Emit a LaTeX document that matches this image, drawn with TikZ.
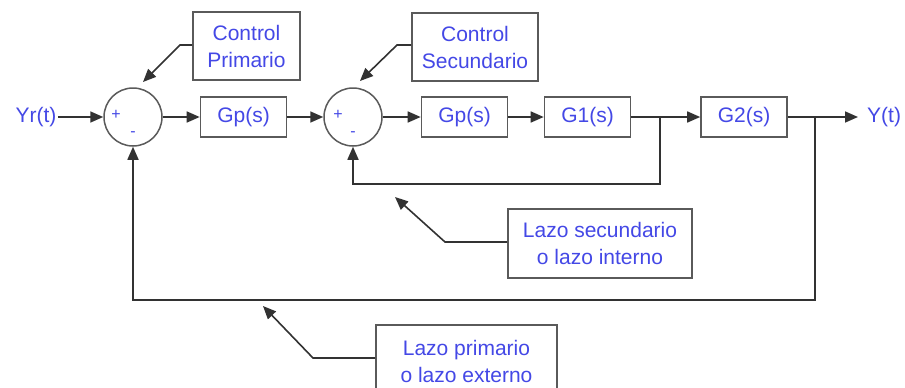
\documentclass[tikz,border=0pt]{standalone}
\usepackage{fontspec}
\setmainfont{Liberation Sans}
\usetikzlibrary{arrows.meta}
\definecolor{labelblue}{RGB}{68,72,230}
\definecolor{wire}{RGB}{50,50,50}
\definecolor{frame}{RGB}{90,90,90}
\begin{document}
\begin{tikzpicture}[x=1pt,y=-1pt,
  txt/.style={text=labelblue, font=\fontsize{21}{27}\selectfont},
  block/.style={txt, draw=frame, line width=1.6pt, fill=white,
    minimum width=86pt, minimum height=40pt, inner sep=0pt},
  note/.style={txt, draw=frame, line width=1.6pt, fill=white,
    inner sep=0pt, align=center},
  sumnode/.style={circle, draw=frame, line width=1.5pt,
    minimum size=58pt, inner sep=0pt},
  sign/.style={text=labelblue, font=\fontsize{16}{16}\selectfont, inner sep=0pt},
  sig/.style={draw=wire, line width=1.6pt,
    -{Triangle[length=13pt,width=11pt]}}]
\useasboundingbox (0,0) rectangle (905,388);
\fill[white] (0,0) rectangle (905,388);

% signal names
\node[txt] (yr) at (36,117) {Yr(t)};
\node[txt, anchor=west, inner sep=0pt] (y) at (867,117) {Y(t)};

% summing junctions
\node[sumnode] (s1) at (133,117) {};
\node[sumnode] (s2) at (353,117) {};
\node[sign] (p1) at (116,115) {+};
\node[sign] (m1) at (133,134) {-};
\node[sign] (p2) at (338,115) {+};
\node[sign] (m2) at (353,134) {-};

% transfer blocks
\node[block] (gp1) at (243.5,117) {Gp(s)};
\node[block] (gp2) at (464.5,117) {Gp(s)};
\node[block] (g1)  at (587.5,117) {G1(s)};
\node[block] (g2)  at (744,117)   {G2(s)};

% annotation boxes
\node[note, minimum width=107pt, minimum height=68pt] (cp) at (246.5,46) {Control\\Primario};
\node[note, minimum width=126pt, minimum height=68pt] (cs) at (475,47) {Control\\Secundario};
\node[note, minimum width=184pt, minimum height=69pt] (ls) at (600,243.5) {Lazo secundario\\o lazo interno};
\node[note, minimum width=181pt, minimum height=72pt] (lp) at (466.5,361) {Lazo primario\\o lazo externo};

% forward path
\draw[sig] ([xshift=-2pt]yr.east) -- (s1.west);
\draw[sig] (s1.east) -- (gp1.west);
\draw[sig] (gp1.east) -- (s2.west);
\draw[sig] (s2.east) -- (gp2.west);
\draw[sig] (gp2.east) -- (g1.west);
\draw[sig] (g1.east) -- (g2.west);
\draw[sig] (g2.east) -- ([xshift=-9pt]y.west);

% inner feedback loop
\coordinate (t1) at (660,117);
\coordinate (b1) at (660,184);
\draw[sig] (t1) -- (b1) -| (s2.south);

% outer feedback loop
\coordinate (t2) at (815,117);
\coordinate (b2) at (815,300);
\draw[sig] (t2) -- (b2) -| (s1.south);

% annotation pointers
\coordinate (cpk) at (180,45);
\coordinate (cpt) at (143,82);
\draw[sig] (cp.west |- cpk) -- (cpk) -- (cpt);
\coordinate (csk) at (397,45);
\coordinate (cst) at (360,81);
\draw[sig] (cs.west |- csk) -- (csk) -- (cst);
\coordinate (lsk) at (445,242);
\coordinate (lst) at (395,197);
\draw[sig] (ls.west |- lsk) -- (lsk) -- (lst);
\coordinate (lpk) at (313,358);
\coordinate (lpt) at (263,306);
\draw[sig] (lp.west |- lpk) -- (lpk) -- (lpt);
\end{tikzpicture}
\end{document}
